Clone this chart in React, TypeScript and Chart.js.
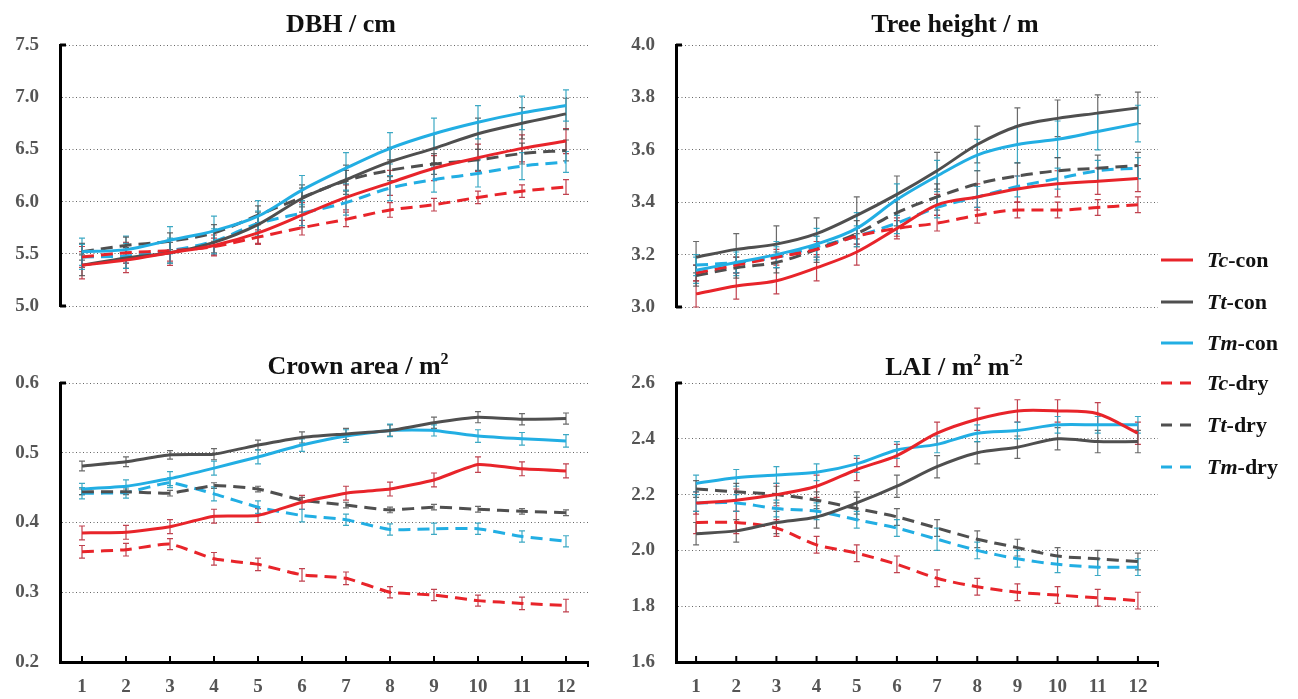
import React, { useEffect, useRef } from 'react';
import { Chart, registerables } from 'chart.js';
Chart.register(...registerables);

const months = ['1', '2', '3', '4', '5', '6', '7', '8', '9', '10', '11', '12'];
const seriesNames = ['Tc-con', 'Tt-con', 'Tm-con', 'Tc-dry', 'Tt-dry', 'Tm-dry'];

// DBH / cm
const dbhTcCon = [5.39, 5.44, 5.51, 5.58, 5.70, 5.87, 6.04, 6.18, 6.32, 6.42, 6.51, 6.58];
const dbhTtCon = [5.39, 5.46, 5.51, 5.61, 5.78, 6.03, 6.21, 6.38, 6.51, 6.65, 6.75, 6.84];
const dbhTmCon = [5.52, 5.54, 5.63, 5.72, 5.86, 6.11, 6.32, 6.51, 6.65, 6.76, 6.85, 6.92];
const dbhTcDry = [5.47, 5.51, 5.53, 5.57, 5.66, 5.75, 5.83, 5.92, 5.97, 6.04, 6.10, 6.14];
const dbhTtDry = [5.52, 5.58, 5.62, 5.70, 5.87, 6.04, 6.20, 6.30, 6.36, 6.40, 6.46, 6.49];
const dbhTmDry = [5.47, 5.48, 5.53, 5.62, 5.79, 5.89, 5.99, 6.13, 6.21, 6.27, 6.34, 6.38];
const dbhTcConErr = [0.13, 0.12, 0.12, 0.10, 0.10, 0.12, 0.12, 0.12, 0.12, 0.13, 0.13, 0.12];
const dbhTtConErr = [0.10, 0.10, 0.10, 0.10, 0.12, 0.13, 0.14, 0.14, 0.14, 0.15, 0.15, 0.15];
const dbhTmConErr = [0.13, 0.13, 0.13, 0.14, 0.15, 0.14, 0.15, 0.15, 0.15, 0.16, 0.16, 0.15];
const dbhTcDryErr = [0.10, 0.10, 0.10, 0.08, 0.07, 0.07, 0.07, 0.07, 0.06, 0.06, 0.06, 0.07];
const dbhTtDryErr = [0.08, 0.08, 0.08, 0.08, 0.09, 0.09, 0.10, 0.10, 0.10, 0.10, 0.10, 0.10];
const dbhTmDryErr = [0.12, 0.12, 0.12, 0.12, 0.12, 0.12, 0.12, 0.12, 0.12, 0.13, 0.13, 0.10];

// Tree height / m
const thTcCon = [3.05, 3.08, 3.10, 3.15, 3.21, 3.30, 3.39, 3.42, 3.45, 3.47, 3.48, 3.49];
const thTtCon = [3.19, 3.22, 3.24, 3.28, 3.35, 3.43, 3.52, 3.62, 3.69, 3.72, 3.74, 3.76];
const thTmCon = [3.14, 3.17, 3.20, 3.24, 3.30, 3.41, 3.50, 3.58, 3.62, 3.64, 3.67, 3.70];
const thTcDry = [3.13, 3.16, 3.19, 3.22, 3.27, 3.30, 3.32, 3.35, 3.37, 3.37, 3.38, 3.39];
const thTtDry = [3.12, 3.15, 3.17, 3.22, 3.28, 3.36, 3.42, 3.47, 3.50, 3.52, 3.53, 3.54];
const thTmDry = [3.16, 3.17, 3.19, 3.23, 3.27, 3.32, 3.38, 3.42, 3.46, 3.49, 3.52, 3.53];
const thTcConErr = [0.05, 0.05, 0.05, 0.05, 0.05, 0.04, 0.04, 0.05, 0.05, 0.05, 0.05, 0.05];
const thTtConErr = [0.06, 0.06, 0.07, 0.06, 0.07, 0.07, 0.07, 0.07, 0.07, 0.07, 0.07, 0.06];
const thTmConErr = [0.05, 0.05, 0.05, 0.06, 0.06, 0.06, 0.06, 0.06, 0.07, 0.07, 0.07, 0.07];
const thTcDryErr = [0.03, 0.03, 0.03, 0.03, 0.03, 0.03, 0.03, 0.03, 0.03, 0.03, 0.03, 0.03];
const thTtDryErr = [0.04, 0.04, 0.04, 0.05, 0.05, 0.05, 0.05, 0.05, 0.05, 0.05, 0.05, 0.05];
const thTmDryErr = [0.04, 0.04, 0.04, 0.04, 0.04, 0.04, 0.04, 0.04, 0.04, 0.04, 0.04, 0.04];

// Crown area / m2
const caTcCon = [0.385, 0.386, 0.394, 0.409, 0.410, 0.429, 0.442, 0.448, 0.461, 0.483, 0.477, 0.474];
const caTtCon = [0.481, 0.487, 0.497, 0.498, 0.511, 0.522, 0.527, 0.532, 0.543, 0.551, 0.548, 0.549];
const caTmCon = [0.448, 0.452, 0.463, 0.478, 0.494, 0.511, 0.524, 0.532, 0.532, 0.524, 0.520, 0.517];
const caTcDry = [0.358, 0.361, 0.369, 0.348, 0.340, 0.325, 0.320, 0.300, 0.296, 0.288, 0.284, 0.281];
const caTtDry = [0.444, 0.444, 0.442, 0.453, 0.448, 0.432, 0.425, 0.418, 0.422, 0.419, 0.416, 0.414];
const caTmDry = [0.442, 0.443, 0.457, 0.441, 0.422, 0.410, 0.404, 0.390, 0.391, 0.391, 0.380, 0.373];
const caTcConErr = [0.010, 0.010, 0.010, 0.010, 0.010, 0.010, 0.010, 0.010, 0.010, 0.011, 0.010, 0.010];
const caTtConErr = [0.007, 0.007, 0.006, 0.008, 0.007, 0.008, 0.008, 0.008, 0.008, 0.008, 0.008, 0.008];
const caTmConErr = [0.008, 0.009, 0.010, 0.010, 0.010, 0.009, 0.009, 0.009, 0.008, 0.009, 0.009, 0.009];
const caTcDryErr = [0.009, 0.009, 0.008, 0.009, 0.009, 0.009, 0.009, 0.008, 0.008, 0.008, 0.009, 0.009];
const caTtDryErr = [0.004, 0.004, 0.004, 0.004, 0.004, 0.004, 0.004, 0.004, 0.004, 0.004, 0.004, 0.004];
const caTmDryErr = [0.008, 0.008, 0.007, 0.010, 0.009, 0.009, 0.008, 0.008, 0.008, 0.008, 0.008, 0.008];

// LAI / m2 m-2
const laiTcCon = [2.17, 2.18, 2.20, 2.23, 2.29, 2.34, 2.42, 2.47, 2.50, 2.50, 2.49, 2.42];
const laiTtCon = [2.06, 2.07, 2.10, 2.12, 2.17, 2.23, 2.30, 2.35, 2.37, 2.40, 2.39, 2.39];
const laiTmCon = [2.24, 2.26, 2.27, 2.28, 2.31, 2.36, 2.38, 2.42, 2.43, 2.45, 2.45, 2.45];
const laiTcDry = [2.10, 2.10, 2.08, 2.02, 1.99, 1.95, 1.90, 1.87, 1.85, 1.84, 1.83, 1.82];
const laiTtDry = [2.22, 2.21, 2.20, 2.18, 2.15, 2.12, 2.08, 2.04, 2.01, 1.98, 1.97, 1.96];
const laiTmDry = [2.17, 2.17, 2.15, 2.14, 2.11, 2.08, 2.04, 2.00, 1.97, 1.95, 1.94, 1.94];
const laiTcConErr = [0.04, 0.04, 0.04, 0.04, 0.04, 0.04, 0.04, 0.04, 0.04, 0.04, 0.04, 0.04];
const laiTtConErr = [0.04, 0.04, 0.04, 0.04, 0.04, 0.04, 0.04, 0.04, 0.04, 0.04, 0.04, 0.04];
const laiTmConErr = [0.03, 0.03, 0.03, 0.03, 0.03, 0.03, 0.03, 0.03, 0.03, 0.03, 0.03, 0.03];
const laiTcDryErr = [0.04, 0.04, 0.03, 0.03, 0.03, 0.03, 0.03, 0.03, 0.03, 0.03, 0.03, 0.03];
const laiTtDryErr = [0.03, 0.03, 0.03, 0.03, 0.04, 0.03, 0.03, 0.03, 0.03, 0.03, 0.03, 0.03];
const laiTmDryErr = [0.03, 0.03, 0.03, 0.03, 0.03, 0.03, 0.04, 0.03, 0.03, 0.03, 0.03, 0.03];

const RED = '#e8242a';
const GRAY = '#4f4f4f';
const CYAN = '#22aee3';
const colors = [RED, GRAY, CYAN, RED, GRAY, CYAN];
const errColors = ['rgba(185,45,60,0.9)', 'rgba(80,80,80,0.85)', 'rgba(40,160,190,0.9)', 'rgba(185,45,60,0.9)', 'rgba(80,80,80,0.85)', 'rgba(40,160,190,0.9)'];
const dashed = [false, false, false, true, true, true];

const SERIF = '"Liberation Serif", "Times New Roman", serif';

type Panel = {
  values: number[][];
  errors: number[][];
  min: number;
  max: number;
  step: number;
  area: { left: number; right: number; top: number; bottom: number };
  showX: boolean;
  tension: number;
};

const panels: Panel[] = [
  {
    values: [dbhTcCon, dbhTtCon, dbhTmCon, dbhTcDry, dbhTtDry, dbhTmDry],
    errors: [dbhTcConErr, dbhTtConErr, dbhTmConErr, dbhTcDryErr, dbhTtDryErr, dbhTmDryErr],
    min: 5.0, max: 7.5, step: 0.5,
    area: { left: 60, right: 588, top: 45, bottom: 343 },
    showX: false, tension: 0.35,
  },
  {
    values: [thTcCon, thTtCon, thTmCon, thTcDry, thTtDry, thTmDry],
    errors: [thTcConErr, thTtConErr, thTmConErr, thTcDryErr, thTtDryErr, thTmDryErr],
    min: 3.0, max: 4.0, step: 0.2,
    area: { left: 676, right: 1158, top: 45, bottom: 344 },
    showX: false, tension: 0.35,
  },
  {
    values: [caTcCon, caTtCon, caTmCon, caTcDry, caTtDry, caTmDry],
    errors: [caTcConErr, caTtConErr, caTmConErr, caTcDryErr, caTtDryErr, caTmDryErr],
    min: 0.2, max: 0.6, step: 0.1,
    area: { left: 60, right: 588, top: 383, bottom: 662 },
    showX: true, tension: 0.15,
  },
  {
    values: [laiTcCon, laiTtCon, laiTmCon, laiTcDry, laiTtDry, laiTmDry],
    errors: [laiTcConErr, laiTtConErr, laiTmConErr, laiTcDryErr, laiTtDryErr, laiTmDryErr],
    min: 1.6, max: 2.6, step: 0.2,
    area: { left: 676, right: 1158, top: 383, bottom: 662 },
    showX: true, tension: 0.3,
  },
];

const W = 1298;
const H = 699;
const Y_W = 60;
const X_H = 37;

const decorPlugin = {
  id: 'decor',
  beforeDatasetsDraw(chart: any) {
    const ctx = chart.ctx;
    const ys = chart.scales.y;
    ctx.save();
    chart.data.datasets.forEach((ds: any, i: number) => {
      const meta = chart.getDatasetMeta(i);
      ctx.strokeStyle = ds.errColor;
      ctx.lineWidth = 1.2;
      ctx.setLineDash([]);
      meta.data.forEach((pt: any, j: number) => {
        const v = ds.data[j];
        const e = ds.errors[j];
        const x = pt.x;
        const y1 = ys.getPixelForValue(v + e);
        const y2 = ys.getPixelForValue(v - e);
        ctx.beginPath();
        ctx.moveTo(x, y1);
        ctx.lineTo(x, y2);
        ctx.moveTo(x - 3, y1);
        ctx.lineTo(x + 3, y1);
        ctx.moveTo(x - 3, y2);
        ctx.lineTo(x + 3, y2);
        ctx.stroke();
      });
    });
    ctx.restore();
  },
  afterDraw(chart: any, _args: any, opts: any) {
    const ctx = chart.ctx;
    const a = chart.chartArea;
    ctx.save();
    ctx.strokeStyle = '#000';
    ctx.lineWidth = 3;
    ctx.setLineDash([]);
    ctx.beginPath();
    ctx.moveTo(a.left, a.top);
    ctx.lineTo(a.left + 6, a.top);
    if (!opts.showX) {
      ctx.moveTo(a.left, a.bottom);
      ctx.lineTo(a.left + 6, a.bottom);
    }
    ctx.stroke();
    if (opts.showX) {
      const xs = chart.scales.x;
      ctx.lineWidth = 2;
      ctx.beginPath();
      for (let i = 0; i < chart.data.labels.length; i++) {
        const x = xs.getPixelForValue(i);
        ctx.moveTo(x, a.bottom);
        ctx.lineTo(x, a.bottom - 6);
      }
      ctx.moveTo(a.right, a.bottom);
      ctx.lineTo(a.right, a.bottom + 5);
      ctx.stroke();
    }
    ctx.restore();
  },
};

function PanelChart({ p }: { p: Panel }) {
  const ref = useRef<HTMLCanvasElement | null>(null);
  useEffect(() => {
    if (!ref.current) return;
    const datasets = p.values.map((vals, i) => ({
      label: seriesNames[i],
      data: vals,
      errors: p.errors[i],
      errColor: errColors[i],
      borderColor: colors[i],
      backgroundColor: colors[i],
      borderWidth: 3,
      borderDash: dashed[i] ? [12, 7] : [],
      pointRadius: 0,
      pointHoverRadius: 0,
      tension: p.tension,
      cubicInterpolationMode: p.tension > 0.3 ? 'monotone' : 'default',
      fill: false,
    }));
    const tickFont = { family: SERIF, size: 19, weight: 'bold' as const };
    const chart = new Chart(ref.current, {
      type: 'line',
      data: { labels: months, datasets: datasets as any },
      options: {
        animation: false,
        responsive: false,
        events: [],
        layout: {
          padding: {
            left: p.area.left - Y_W,
            right: W - p.area.right,
            top: p.area.top,
            bottom: p.showX ? H - p.area.bottom - X_H : H - p.area.bottom,
          },
        },
        plugins: {
          legend: { display: false },
          title: { display: false },
          tooltip: { enabled: false },
          decor: { showX: p.showX },
        } as any,
        scales: {
          x: {
            type: 'category',
            offset: true,
            display: p.showX,
            grid: { display: false, drawTicks: false },
            border: { display: p.showX, color: '#000', width: 3 },
            ticks: {
              font: tickFont,
              color: '#555',
              padding: 14,
              autoSkip: false,
              maxRotation: 0,
            },
            afterFit: (s: any) => { s.height = X_H; },
          },
          y: {
            min: p.min,
            max: p.max,
            grid: { color: '#666', lineWidth: 1, drawTicks: false },
            border: { display: true, color: '#000', width: 3, dash: [1, 2.5] },
            ticks: {
              stepSize: p.step,
              font: tickFont,
              color: '#555',
              padding: 21,
              callback: (v: any) => Number(v).toFixed(1),
            },
            afterFit: (s: any) => { s.width = Y_W; },
          },
        },
      },
      plugins: [decorPlugin],
    });
    return () => chart.destroy();
  }, [p]);
  return (
    <canvas
      ref={ref}
      width={W}
      height={H}
      style={{ position: 'absolute', left: 0, top: 0, width: W, height: H }}
    />
  );
}

const titleStyle: React.CSSProperties = {
  position: 'absolute',
  transform: 'translate(-50%, -50%)',
  fontFamily: SERIF,
  fontWeight: 'bold',
  fontSize: 26,
  color: '#111',
  whiteSpace: 'nowrap',
  lineHeight: 1,
};

const supStyle: React.CSSProperties = { fontSize: 16, verticalAlign: 'top', position: 'relative', top: -2 };

const legendTops = [260, 302, 343, 383, 425, 467];
const legendPrefix = ['Tc', 'Tt', 'Tm', 'Tc', 'Tt', 'Tm'];
const legendSuffix = ['-con', '-con', '-con', '-dry', '-dry', '-dry'];

export default function App() {
  return (
    <div style={{ position: 'absolute', left: 0, top: 0, width: W, height: H, background: '#fff', overflow: 'hidden' }}>
      {panels.map((p, i) => (
        <PanelChart key={i} p={p} />
      ))}
      <div style={{ ...titleStyle, left: 341, top: 24 }}>DBH / cm</div>
      <div style={{ ...titleStyle, left: 955, top: 24 }}>Tree height / m</div>
      <div style={{ ...titleStyle, left: 358, top: 366 }}>
        Crown area / m<span style={supStyle}>2</span>
      </div>
      <div style={{ ...titleStyle, left: 954, top: 367 }}>
        LAI / m<span style={supStyle}>2</span> m<span style={supStyle}>-2</span>
      </div>
      {legendTops.map((y, i) => (
        <div
          key={i}
          style={{
            position: 'absolute',
            left: 1161,
            top: y,
            transform: 'translateY(-50%)',
            display: 'flex',
            alignItems: 'center',
            fontFamily: SERIF,
            fontWeight: 'bold',
            fontSize: 22,
            color: '#111',
            whiteSpace: 'nowrap',
            lineHeight: 1,
          }}
        >
          <svg width={32} height={6} style={{ marginRight: 14, display: 'block' }}>
            <line
              x1={0}
              y1={3}
              x2={32}
              y2={3}
              stroke={colors[i]}
              strokeWidth={3}
              strokeDasharray={dashed[i] ? '11 8' : undefined}
            />
          </svg>
          <span>
            <i>{legendPrefix[i]}</i>
            {legendSuffix[i]}
          </span>
        </div>
      ))}
    </div>
  );
}
